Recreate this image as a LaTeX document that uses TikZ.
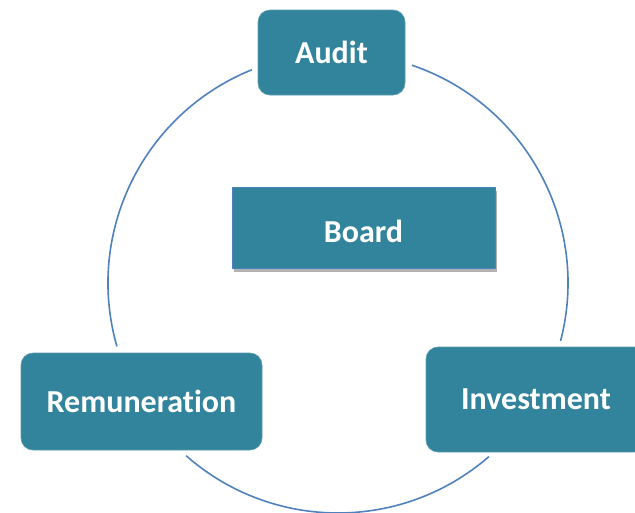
\documentclass[tikz,border=0pt]{standalone}
\usepackage{fontspec}
\setmainfont{Carlito}[Ligatures=NoCommon]
\usetikzlibrary{shadows}
\definecolor{teal}{HTML}{31849B}
\definecolor{ringblue}{HTML}{4F81BD}
\tikzset{
  box/.style={fill=teal, draw=teal!80!white, line width=0.6pt, rounded corners=12pt,
    inner sep=0pt, text=white, font=\fontsize{32}{36}\selectfont\bfseries},
  boardbox/.style={fill=teal, draw=ringblue, line width=0.8pt, inner sep=0pt,
    text=white, font=\fontsize{32}{36}\selectfont\bfseries,
    drop shadow={shadow xshift=2pt, shadow yshift=-4pt, opacity=0.3, fill=black}},
  ring/.style={draw=ringblue, line width=1.6pt}
}
\begin{document}
\begin{tikzpicture}[x=1pt,y=-1pt]
\useasboundingbox (0,0) rectangle (635,512);
\clip (0,0) rectangle (635,512);
\coordinate (c) at (338,283);
\node[box, minimum width=147pt, minimum height=85pt] (audit) at (331.5,52.5) {Audit};
\node[boardbox, minimum width=263pt, minimum height=81pt] (board) at (363.5,227.5) {\raisebox{-4pt}[\height][\depth]{Board}};
\node[box, minimum width=241pt, minimum height=97pt] (rem) at (141.5,401.5) {Remuneration};
\node[box, minimum width=220pt, minimum height=105pt] (inv) at (536,399.5) {Investment};
\draw[ring] ([shift={(112:230pt)}]c) arc[start angle=112, end angle=196, radius=230pt];
\draw[ring] ([shift={(228.7:230pt)}]c) arc[start angle=228.7, end angle=311, radius=230pt];
\draw[ring] ([shift={(345.4:230pt)}]c) arc[start angle=345.4, end angle=431.25, radius=230pt];
\end{tikzpicture}
\end{document}
